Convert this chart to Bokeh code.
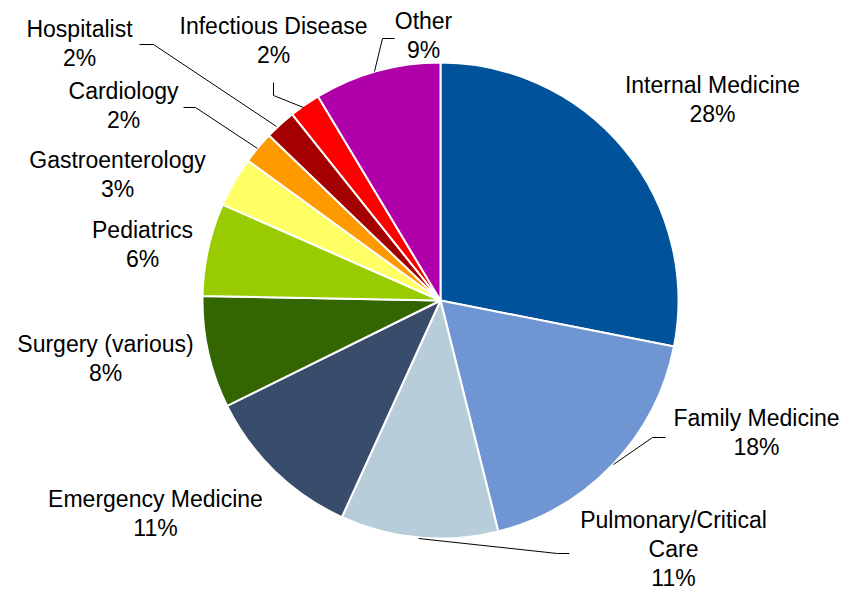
import math
from bokeh.plotting import figure
from bokeh.models import Range1d, ColumnDataSource
from bokeh.core.properties import value
from bokeh.embed import file_html
from bokeh.resources import INLINE

# ---- data ----
categories = ["Internal Medicine", "Family Medicine", "Pulmonary/Critical Care",
              "Emergency Medicine", "Surgery (various)", "Pediatrics",
              "Gastroenterology", "Cardiology", "Hospitalist",
              "Infectious Disease", "Other"]
shares = [28.1, 18.0, 10.7, 10.9, 7.6, 6.3, 3.4, 2.2, 2.1, 2.1, 8.6]
colors = ["#00529B", "#6F96D3", "#B7CDDA", "#384C6B", "#336600", "#99CC00",
          "#FFFF66", "#FF9900", "#A50000", "#FF0000", "#B000AA"]
# label lines (name split over lines as in the original)
name_lines = [["Internal Medicine"], ["Family Medicine"], ["Pulmonary/Critical", "Care"],
              ["Emergency Medicine"], ["Surgery (various)"], ["Pediatrics"],
              ["Gastroenterology"], ["Cardiology"], ["Hospitalist"],
              ["Infectious Disease"], ["Other"]]

# ---- layout (screen pixel coordinates) ----
W, H = 846, 592
def Y(py):
    return H - py

cx, cy, R = 440, Y(300), 238
# label anchor: center x, first-line baseline (pixel y), line spacing
label_pos = [(712, 92), (756, 425), (673, 527), (155, 506), (105, 351),
             (142, 237), (117, 167), (123, 98), (79, 36), (273, 33), (423, 28)]
line_gap = 29
text_shift = -8
leaders = [
    None,
    [(613, 464), (652, 437), (665, 437)],
    [(418, 538), (557, 553), (569, 553)],
    None, None, None, None,
    [(257, 148), (195, 107), (183, 107)],
    [(276, 126), (153, 44), (139, 44)],
    [(303, 107), (273, 95), (273, 82)],
    [(374, 71), (382, 38), (394, 38)],
]

p = figure(width=W, height=H, output_backend="svg", toolbar_location=None,
           x_range=Range1d(0, W), y_range=Range1d(0, H), min_border=0)
p.axis.visible = False
p.grid.visible = False
p.outline_line_color = None

total = sum(shares)
starts, ends = [], []
cum = 0.0
for s in shares:
    starts.append(math.pi / 2 - 2 * math.pi * cum / total)
    cum += s
    ends.append(math.pi / 2 - 2 * math.pi * cum / total)

src = ColumnDataSource(dict(start=starts, end=ends, color=colors, name=categories))
p.wedge(x=cx, y=cy, radius=R, start_angle="start", end_angle="end",
        direction="clock", fill_color="color", line_color="white",
        line_width=2, source=src)

for ld in leaders:
    if ld:
        p.line([a for a, b in ld], [Y(b) for a, b in ld], line_color="black", line_width=1)

tx, ty, tt = [], [], []
for i, (names, (lx, ly)) in enumerate(zip(name_lines, label_pos)):
    lines = names + [f"{round(shares[i])}%"]
    for k, t in enumerate(lines):
        tx.append(lx)
        ty.append(Y(ly + k * line_gap + text_shift))
        tt.append(t)
p.text(x=tx, y=ty, text=tt, text_align="center", text_baseline="alphabetic",
       text_font=value("Liberation Sans"), text_font_size="23px", text_color="black")

open("out.html", "w").write(file_html(p, INLINE))
